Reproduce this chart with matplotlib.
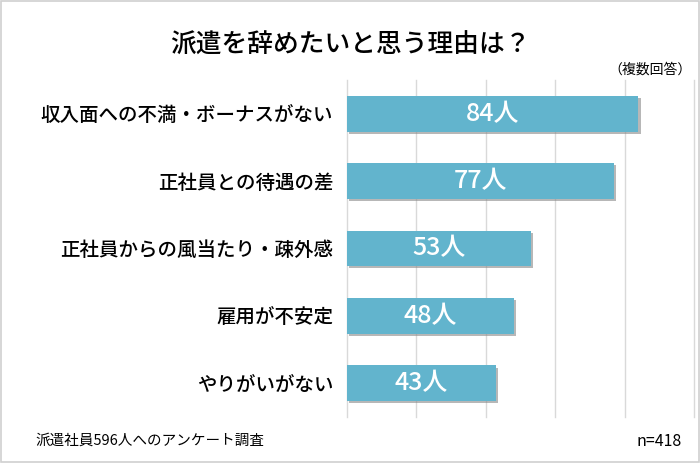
import matplotlib
matplotlib.use("Agg")
import matplotlib.pyplot as plt
from matplotlib.patches import Rectangle
import matplotlib.patheffects as pe

plt.rcParams['font.family'] = ['Noto Sans CJK JP', 'DejaVu Sans']

categories = ["収入面への不満・ボーナスがない", "正社員との待遇の差", "正社員からの風当たり・疎外感", "雇用が不安定", "やりがいがない"]
values = [84, 77, 53, 48, 43]
value_labels = ["84人", "77人", "53人", "48人", "43人"]
xticks = [0, 20, 40, 60, 80, 100]

fig = plt.figure(figsize=(7, 4.63), dpi=100)
fig.patch.set_facecolor('white')
fig.add_artist(Rectangle((0.002, 0.002), 0.996, 0.996, transform=fig.transFigure,
                         fill=False, edgecolor='#d0d0d0', linewidth=1.2))

W, H = 700, 463
left, right, top, bottom = 347, 694, 80, 417
ax = fig.add_axes([left / W, 1 - bottom / H, (right - left) / W, (bottom - top) / H])

ypos = list(range(len(categories)))
ax.barh(ypos, values, height=0.53, color='#62B4CD', zorder=3,
        path_effects=[pe.SimplePatchShadow(offset=(1.5, -1.5), shadow_rgbFace='#888888', alpha=0.6), pe.Normal()])
for y, v, lab in zip(ypos, values, value_labels):
    ax.text(v / 2, y, lab, color='white', ha='center', va='center', fontsize=18,
            fontweight='medium', zorder=4)

ax.set_xlim(0, 100)
ax.set_ylim(len(categories) - 0.5, -0.5)
ax.set_xticks(xticks)
ax.set_xticklabels([])
ax.tick_params(axis='x', length=0)
ax.grid(axis='x', color='#d9d9d9', linewidth=1.0, zorder=0)
for gl in ax.get_xgridlines():
    gl.set_clip_on(False)
ax.set_yticks(ypos)
ax.set_yticklabels(categories, fontsize=14, fontweight='medium')
ax.tick_params(axis='y', length=0, pad=10)
for s in ax.spines.values():
    s.set_visible(False)

fig.text(350 / W, 1 - 45 / H, "派遣を辞めたいと思う理由は？", ha='center', va='center',
         fontsize=18.5, fontweight='medium')
fig.text(692 / W, 1 - 70 / H, "（複数回答）", ha='right', va='center', fontsize=10)
fig.text(35 / W, 1 - 441 / H, "派遣社員596人へのアンケート調査", ha='left', va='center', fontsize=10.5)
fig.text(682 / W, 1 - 441 / H, "n=418", ha='right', va='center', fontsize=11.5)

fig.savefig("out.png", dpi=100)
